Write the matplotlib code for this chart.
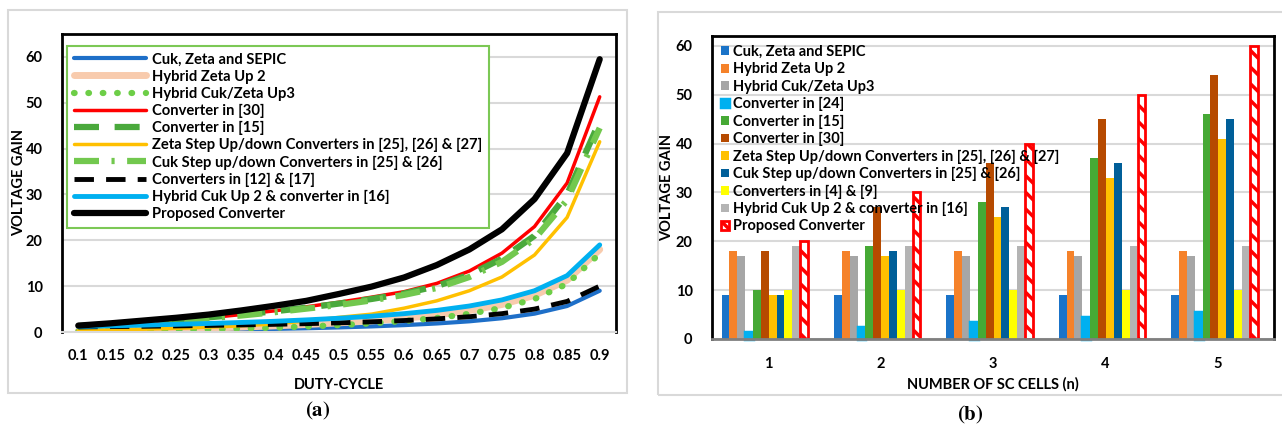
import matplotlib
matplotlib.use('Agg')
import matplotlib.pyplot as plt
from matplotlib.patches import Rectangle
import numpy as np

plt.rcParams['font.family'] = ['Lato', 'DejaVu Sans']
plt.rcParams['font.weight'] = 'bold'
plt.rcParams['axes.labelweight'] = 'bold'
plt.rcParams['hatch.linewidth'] = 2.5
plt.rcParams['mathtext.fontset'] = 'stix'

# ---- (a) voltage gain vs duty cycle ----
duty = ['0.1', '0.15', '0.2', '0.25', '0.3', '0.35', '0.4', '0.45', '0.5',
        '0.55', '0.6', '0.65', '0.7', '0.75', '0.8', '0.85', '0.9']
cuk_zeta_sepic = [0.11, 0.18, 0.25, 0.33, 0.43, 0.54, 0.67, 0.82, 1.0, 1.22, 1.5, 1.86, 2.33, 3.0, 4.0, 5.67, 9.0]
hybrid_zeta_up2 = [0.22, 0.35, 0.5, 0.67, 0.86, 1.08, 1.33, 1.64, 2.0, 2.44, 3.0, 3.71, 4.67, 6.0, 8.0, 11.3, 18.0]
hybrid_cuk_zeta_up3 = [0.12, 0.2, 0.3, 0.42, 0.56, 0.73, 0.93, 1.19, 1.5, 1.89, 2.4, 3.06, 3.97, 5.25, 7.2, 10.5, 17.1]
conv_30 = [1.2, 1.6, 2.0, 2.5, 3.1, 3.8, 4.6, 5.5, 6.5, 7.6, 8.8, 10.6, 13.3, 17.2, 23.0, 32.5, 51.3]
conv_15 = [1.3, 1.7, 2.1, 2.6, 3.2, 3.8, 4.5, 5.3, 6.2, 7.2, 8.4, 10.0, 12.5, 16.0, 21.0, 30.0, 46.0]
zeta_step = [0.3, 0.45, 0.6, 0.8, 1.05, 1.35, 1.75, 2.4, 3.2, 3.9, 5.2, 6.8, 9.0, 12.0, 16.8, 25.0, 41.5]
cuk_step = [1.2, 1.6, 2.0, 2.5, 3.0, 3.6, 4.3, 5.1, 5.9, 6.9, 8.1, 9.6, 12.0, 15.3, 20.3, 28.8, 44.5]
conv_12_17 = [1.11, 1.18, 1.25, 1.33, 1.43, 1.54, 1.67, 1.82, 2.0, 2.22, 2.5, 2.86, 3.33, 4.0, 5.0, 6.67, 10.0]
hybrid_cuk_up2 = [1.22, 1.35, 1.5, 1.67, 1.86, 2.08, 2.33, 2.64, 3.0, 3.44, 4.0, 4.71, 5.67, 7.0, 9.0, 12.3, 19.0]
proposed = [1.4, 1.9, 2.5, 3.1, 3.8, 4.7, 5.7, 6.8, 8.3, 9.9, 11.9, 14.6, 18.0, 22.4, 29.0, 39.0, 59.5]

# ---- (b) voltage gain vs number of SC cells ----
n_cells = ['1', '2', '3', '4', '5']
b_cuk_zeta_sepic = [9, 9, 9, 9, 9]
b_hybrid_zeta_up2 = [18, 18, 18, 18, 18]
b_hybrid_cuk_zeta_up3 = [17, 17, 17, 17, 17]
b_conv_24 = [1.5, 2.5, 3.5, 4.5, 5.5]
b_conv_15 = [10, 19, 28, 37, 46]
b_conv_30 = [18, 27, 36, 45, 54]
b_zeta_step = [9, 17, 25, 33, 41]
b_cuk_step = [9, 18, 27, 36, 45]
b_conv_4_9 = [10, 10, 10, 10, 10]
b_hybrid_cuk_up2 = [19, 19, 19, 19, 19]
b_proposed = [20, 30, 40, 50, 60]

fig = plt.figure(figsize=(12.82, 4.32), dpi=100)

# outer panel frames
for x0, y0, w, h in [(8, 10, 619, 383), (658, 12, 640, 383)]:
    fig.patches.append(Rectangle((x0 / 1282, (432 - y0 - h) / 432), w / 1282, h / 432,
                                 transform=fig.transFigure, fill=False,
                                 edgecolor='#D9D9D9', lw=1.5))

# ----- left chart -----
ax1 = fig.add_axes([62 / 1282, 100 / 432, 554 / 1282, 298 / 432])
x = np.arange(len(duty))
series_a = [
    (cuk_zeta_sepic, 'Cuk, Zeta and SEPIC', dict(color='#1E6FC8', lw=3)),
    (hybrid_zeta_up2, 'Hybrid Zeta Up 2', dict(color='#F8CBAD', lw=5)),
    (hybrid_cuk_zeta_up3, 'Hybrid Cuk/Zeta Up3', dict(color='#6DCE47', lw=4.5, ls=(0, (0.1, 2.2)), dash_capstyle='round')),
    (conv_30, 'Converter in [30]', dict(color='#FF0000', lw=2.5)),
    (conv_15, 'Converter in [15]', dict(color='#4AA93C', lw=4.5, ls=(0, (4, 2.5)))),
    (zeta_step, 'Zeta Step Up/down Converters in [25], [26] & [27]', dict(color='#FFC000', lw=2.5)),
    (cuk_step, 'Cuk Step up/down Converters in [25] & [26]', dict(color='#72C84E', lw=4.5, ls=(0, (4, 2, 0.5, 2)))),
    (conv_12_17, 'Converters in [12] & [17]', dict(color='black', lw=3.5, ls=(0, (4, 2.5)))),
    (hybrid_cuk_up2, 'Hybrid Cuk Up 2 & converter in [16]', dict(color='#00B0F0', lw=3.5)),
    (proposed, 'Proposed Converter', dict(color='black', lw=4.5)),
]
for vals, lab, st in series_a:
    ax1.plot(x, vals, label=lab, solid_capstyle='round', **st)

ax1.set_xlim(-0.5, len(duty) - 0.5)
ax1.set_ylim(0, 65)
ax1.set_xticks(x)
ax1.set_xticklabels(duty)
ax1.set_yticks(range(0, 61, 10))
ax1.yaxis.grid(True, color='#D9D9D9', lw=1.5)
ax1.set_axisbelow(True)
ax1.tick_params(length=0, labelsize=10.5)
ax1.tick_params(axis='y', pad=14)
ax1.tick_params(axis='x', pad=12)
for s in ['left', 'top', 'right']:
    ax1.spines[s].set_linewidth(2)
ax1.spines['bottom'].set_color('#D9D9D9')
ax1.spines['bottom'].set_linewidth(1.5)
ax1.set_xlabel('DUTY-CYCLE', fontsize=10.5, labelpad=11)
ax1.set_ylabel('VOLTAGE GAIN', fontsize=10.5)
ax1.yaxis.set_label_coords(-0.064, 0.5)
leg1 = ax1.legend(loc='upper left', bbox_to_anchor=(0.009, 0.96), borderaxespad=0,
                  fontsize=10.6, handlelength=4.9, handletextpad=0.4,
                  labelspacing=0.21, borderpad=0.45, fancybox=False, framealpha=1)
leg1.get_frame().set_edgecolor('#7CC855')
leg1.get_frame().set_linewidth(1.5)

# ----- right chart -----
ax2 = fig.add_axes([712 / 1282, 93 / 432, 562 / 1282, 303 / 432])
xb = np.arange(1, len(n_cells) + 1)
series_b = [
    (b_cuk_zeta_sepic, 'Cuk, Zeta and SEPIC', '#1A73C8'),
    (b_hybrid_zeta_up2, 'Hybrid Zeta Up 2', '#F5822A'),
    (b_hybrid_cuk_zeta_up3, 'Hybrid Cuk/Zeta Up3', '#A6A6A6'),
    (b_conv_24, 'Converter in [24]', '#00B0F0'),
    (b_conv_15, 'Converter in [15]', '#46A935'),
    (b_conv_30, 'Converter in [30]', '#B64A00'),
    (b_zeta_step, 'Zeta Step Up/down Converters in [25], [26] & [27]', '#FFC000'),
    (b_cuk_step, 'Cuk Step up/down Converters in [25] & [26]', '#005F99'),
    (b_conv_4_9, 'Converters in [4] & [9]', '#FFFF00'),
    (b_hybrid_cuk_up2, 'Hybrid Cuk Up 2 & converter in [16]', '#B4B4B4'),
]
bw = 0.07
nser = len(series_b) + 1
for i, (vals, lab, col) in enumerate(series_b):
    off = (i - (nser - 1) / 2) * bw - 0.03
    if lab == 'Converter in [24]':
        ax2.bar(xb + off, vals, bw, color=col, edgecolor=col, lw=2.5, label=lab, clip_on=False)
    else:
        ax2.bar(xb + off, vals, bw, color=col, label=lab)
off = (nser - 1 - (nser - 1) / 2) * bw - 0.03
ax2.bar(xb + off, b_proposed, bw * 0.95, color='white', edgecolor='#FF0000', hatch='\\\\',
        lw=2, label='Proposed Converter')

ax2.set_xlim(0.5, len(n_cells) + 0.5)
ax2.set_ylim(0, 62)
ax2.set_xticks(xb)
ax2.set_xticklabels(n_cells)
ax2.set_yticks(range(0, 61, 10))
ax2.yaxis.grid(True, color='#D9D9D9', lw=1.5)
ax2.set_axisbelow(True)
ax2.tick_params(length=0, labelsize=10.5)
ax2.tick_params(axis='y', pad=14)
ax2.tick_params(axis='x', pad=13)
for s in ['left', 'top', 'right']:
    ax2.spines[s].set_linewidth(2)
ax2.spines['bottom'].set_color('#7F7F7F')
ax2.spines['bottom'].set_linewidth(2)
ax2.set_xlabel('NUMBER OF SC CELLS (n)', fontsize=10.5, labelpad=4)
ax2.set_ylabel('VOLTAGE GAIN', fontsize=10.5)
ax2.yaxis.set_label_coords(-0.068, 0.5)
ax2.legend(loc='upper left', bbox_to_anchor=(0.013, 0.975), borderaxespad=0,
           fontsize=10.5, handlelength=0.55, handleheight=0.55, handletextpad=0.3,
           labelspacing=0.23, borderpad=0.1, frameon=False)

fig.text(318 / 1282, 1 - 411 / 432, r'$(\mathbf{a})$', ha='center', va='center', fontsize=15)
fig.text(970 / 1282, 1 - 415 / 432, r'$(\mathbf{b})$', ha='center', va='center', fontsize=15)

fig.savefig('out.png', dpi=100)
